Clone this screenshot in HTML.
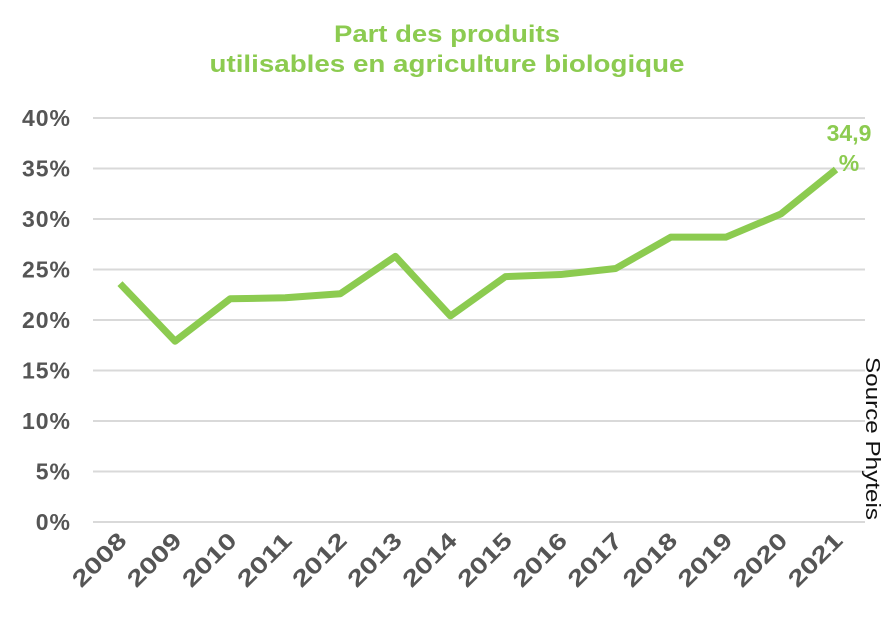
<!DOCTYPE html>
<html><head><meta charset="utf-8"><style>
body{margin:0;background:#fff;}
svg{display:block;font-family:"Liberation Sans",sans-serif;}
</style></head><body>
<svg id="chart" width="893" height="619">
<text x="447" y="42" text-anchor="middle" font-size="24" font-weight="bold" fill="#8ccb50" textLength="226" lengthAdjust="spacingAndGlyphs">Part des produits</text>
<text x="447" y="72" text-anchor="middle" font-size="24" font-weight="bold" fill="#8ccb50" textLength="475" lengthAdjust="spacingAndGlyphs">utilisables en agriculture biologique</text>
<g id="grid"></g><g id="yticks"></g><g id="xticks"></g>
<path id="line" fill="none" stroke="#8ccb50" stroke-width="7" stroke-linejoin="round"/>
<text x="849" y="141" text-anchor="middle" font-size="23" font-weight="bold" fill="#8ccb50">34,9</text>
<text x="849" y="171" text-anchor="middle" font-size="23" font-weight="bold" fill="#8ccb50">%</text>
<text transform="translate(866,357) rotate(90)" font-size="20" fill="#111" textLength="163" lengthAdjust="spacingAndGlyphs">Source Phyteis</text>
</svg>
<script>
const categories=["2008","2009","2010","2011","2012","2013","2014","2015","2016","2017","2018","2019","2020","2021"];
const values=[23.6,17.9,22.1,22.2,22.6,26.3,20.4,24.3,24.5,25.1,28.2,28.2,30.5,34.9];
const yTicks=[0,5,10,15,20,25,30,35,40];
const NS="http://www.w3.org/2000/svg";
const y=v=>522-v*(404/40);
const x=i=>120+i*(716/13);
const grid=document.getElementById('grid'),yt=document.getElementById('yticks'),xt=document.getElementById('xticks');
yTicks.forEach(t=>{
 const l=document.createElementNS(NS,'line');
 l.setAttribute('x1',93);l.setAttribute('x2',865);l.setAttribute('y1',y(t));l.setAttribute('y2',y(t));
 l.setAttribute('stroke','#d9d9d9');l.setAttribute('stroke-width','2');
 
 
 grid.appendChild(l);
 const tx=document.createElementNS(NS,'text');
 tx.setAttribute('x',71);tx.setAttribute('y',y(t)+8);tx.setAttribute('text-anchor','end');
 tx.setAttribute('font-size','23');tx.setAttribute('font-weight','bold');tx.setAttribute('fill','#555');
 tx.setAttribute('letter-spacing','1');
 tx.textContent=t+'%';
 
 
 yt.appendChild(tx);
});
categories.forEach((c,i)=>{
 const tx=document.createElementNS(NS,'text');
 const px=x(i)+8,py=542;
 tx.setAttribute('transform','translate('+px+','+py+') rotate(-45)');
 tx.setAttribute('text-anchor','end');tx.setAttribute('font-size','23');tx.setAttribute('font-weight','bold');tx.setAttribute('fill','#555');
 tx.setAttribute('textLength','66');tx.setAttribute('lengthAdjust','spacingAndGlyphs');
 tx.textContent=c;
 
 
 xt.appendChild(tx);
});
document.getElementById('line').setAttribute('d',values.map((v,i)=>(i?'L':'M')+x(i)+','+y(v)).join(' '));
</script>
</body></html>
